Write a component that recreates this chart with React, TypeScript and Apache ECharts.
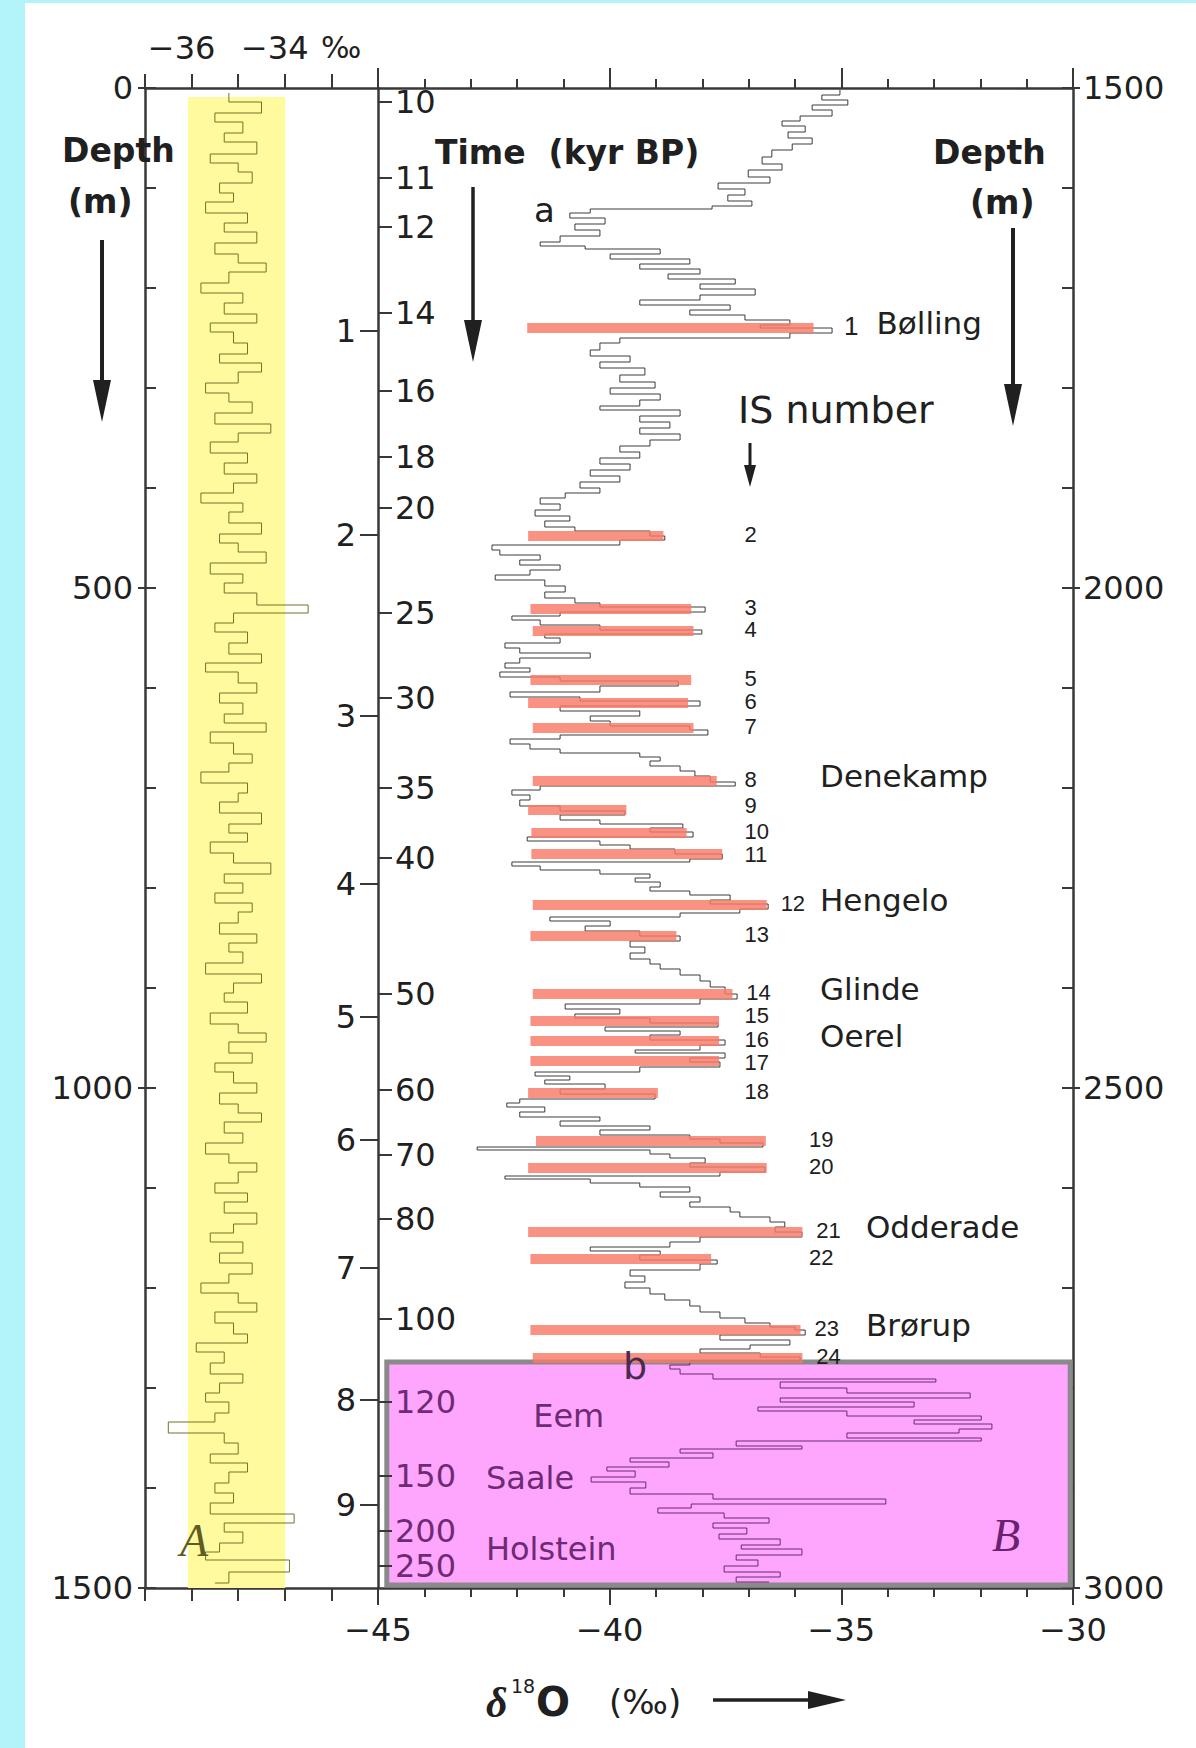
import React, { useEffect, useRef } from "react";
import * as echarts from "echarts";

const SANS = '"DejaVu Sans", "Noto Sans", sans-serif';
const ARIAL = '"Liberation Sans", Arial, sans-serif';
const SERIF = '"Liberation Serif", "DejaVu Serif", serif';
const INK = "#202020";
const AXIS = "#383838";
const PURPLE = "#6e2a74";
const TRACE_PURPLE = "#5a1e62";
const OLIVE = "#747228";
const BAR = "rgba(248,122,102,0.82)";

// ---------- Core A (left panel): depth (m) , delta18O (permil) ----------
const traceA: [number, number][] = [
  [5, -35.2], [14, -34.5], [25, -35.5], [34, -34.9], [45, -35.3], [54, -34.6], [66, -35.6], [75, -35.0], [84, -34.7], [95, -35.4],
  [105, -35.1], [114, -35.7], [125, -34.8], [135, -35.3], [144, -34.6], [155, -35.5], [166, -35.0], [175, -34.4], [184, -35.2], [195, -35.8],
  [205, -34.9], [215, -35.3], [226, -34.6], [235, -35.6], [244, -35.1], [255, -34.8], [266, -35.4], [275, -34.5], [284, -35.0], [295, -35.7],
  [305, -35.2], [314, -34.7], [325, -35.5], [336, -34.3], [345, -35.0], [354, -35.6], [365, -34.8], [375, -35.3], [386, -34.6], [395, -35.1],
  [405, -35.8], [415, -34.9], [424, -35.2], [435, -34.5], [446, -35.4], [455, -35.0], [464, -34.4], [475, -35.6], [486, -34.9], [495, -35.3],
  [505, -34.6], [517, -33.5], [525, -35.1], [535, -35.5], [544, -34.8], [555, -35.2], [566, -34.5], [575, -35.7], [584, -35.0], [595, -34.6],
  [605, -35.4], [615, -34.9], [626, -35.3], [635, -34.4], [644, -35.6], [655, -35.1], [666, -34.7], [675, -35.2], [684, -35.8], [695, -34.8],
  [705, -35.0], [714, -35.4], [725, -34.5], [736, -35.2], [745, -34.8], [754, -35.6], [765, -35.1], [775, -34.3], [786, -35.3], [795, -34.9],
  [805, -35.5], [815, -34.7], [824, -35.0], [835, -35.4], [846, -34.6], [855, -35.2], [864, -34.9], [875, -35.7], [886, -34.5], [895, -35.1],
  [905, -35.3], [914, -34.8], [925, -35.6], [936, -35.0], [945, -34.4], [954, -35.2], [965, -34.7], [975, -35.5], [984, -35.1], [995, -34.6],
  [1005, -35.4], [1016, -35.0], [1025, -34.5], [1034, -35.3], [1045, -34.9], [1055, -35.7], [1066, -35.2], [1075, -34.6], [1084, -35.0], [1095, -35.5],
  [1105, -34.8], [1114, -35.3], [1125, -34.6], [1136, -35.1], [1145, -35.6], [1154, -34.9], [1165, -35.4], [1175, -34.7], [1186, -35.2], [1195, -35.8],
  [1205, -35.0], [1215, -34.6], [1224, -35.5], [1235, -35.1], [1246, -34.8], [1255, -35.9], [1264, -35.3], [1275, -35.6], [1286, -34.9], [1295, -35.4],
  [1305, -35.7], [1314, -35.2], [1325, -35.5], [1334, -36.5], [1345, -35.3], [1355, -35.0], [1366, -35.6], [1375, -34.8], [1384, -35.2], [1395, -35.5],
  [1405, -35.1], [1415, -35.6], [1426, -33.8], [1435, -35.3], [1444, -34.9], [1455, -35.4], [1464, -35.7], [1472, -33.9], [1484, -35.2], [1495, -35.5],
];
const yellowBand = { from: -36.08, to: -33.99, top: 9, bottom: 1500 };

// ---------- Core B (right panel): depth (m), delta18O (permil) ----------
const traceBHolocene: [number, number][] = [
  [1502, -35.03], [1507, -35.42], [1512, -34.86], [1517, -35.63], [1522, -35.2], [1528, -35.89], [1533, -36.28], [1538, -35.78],
  [1544, -36.15], [1550, -35.63], [1556, -36.06], [1562, -36.5], [1569, -36.71], [1576, -36.28], [1582, -37.01], [1589, -36.54],
  [1595, -37.66], [1601, -37.08], [1607, -37.45], [1613, -36.93], [1618, -37.79],
];
const traceBLateGlacial: [number, number][] = [
  [1621, -40.42], [1625, -40.86], [1630, -40.1], [1636, -40.75], [1642, -40.21], [1648, -41.07], [1654, -41.5], [1658, -40.53],
  [1661, -38.91], [1666, -39.99], [1671, -38.27], [1676, -39.35], [1681, -38.05], [1686, -38.74], [1691, -37.29], [1696, -38.05],
  [1701, -36.86], [1707, -38.05], [1712, -39.35], [1717, -37.4], [1722, -38.27], [1727, -37.08], [1732, -36.11], [1737, -36.75],
  [1740, -35.2], [1745, -36.11], [1750, -39.78], [1755, -40.21], [1762, -40.42], [1768, -39.56], [1774, -40.21], [1780, -39.24],
  [1787, -39.78], [1794, -39.02], [1800, -39.99], [1806, -38.91], [1812, -39.35], [1818, -40.21], [1822, -38.48], [1828, -39.35],
  [1834, -38.7], [1840, -39.35], [1846, -38.48], [1852, -39.13], [1858, -39.78], [1864, -39.35], [1870, -40.21], [1876, -39.56],
  [1882, -40.42], [1888, -39.78], [1894, -40.64], [1900, -40.21], [1905, -40.96], [1910, -41.5], [1916, -41.07], [1922, -41.61],
  [1928, -40.86], [1933, -41.4], [1939, -40.75], [1943, -39.13], [1948, -38.81], [1952, -39.78],
];
const traceBGlacial: [number, number][] = [
  [1957, -42.54], [1962, -42.37], [1967, -41.5], [1972, -41.94], [1977, -41.07], [1982, -41.72], [1987, -42.47], [1992, -41.4],
  [1998, -40.96], [2004, -41.4], [2010, -40.75], [2015, -40.21], [2019, -37.94], [2024, -41.07], [2028, -42.11], [2032, -41.5],
  [2037, -40.21], [2042, -38.01], [2046, -41.4], [2050, -41.07], [2055, -42.26], [2060, -41.94], [2065, -40.42], [2070, -41.94],
  [2075, -42.26], [2080, -41.72], [2084, -42.37], [2089, -41.07], [2093, -38.52], [2098, -40.21], [2104, -42.15], [2109, -40.64],
  [2113, -38.05], [2118, -41.07], [2123, -39.35], [2128, -40.42], [2133, -39.99], [2138, -38.27], [2142, -37.88], [2147, -41.07],
  [2151, -42.15], [2156, -41.72], [2161, -41.07], [2165, -39.35], [2169, -38.91], [2173, -39.13], [2178, -38.48], [2183, -38.16],
  [2188, -37.83], [2194, -37.29], [2198, -41.5], [2202, -42.11], [2207, -41.72], [2212, -41.94], [2218, -41.07], [2223, -39.67],
  [2227, -41.07], [2232, -40.21], [2236, -38.42], [2240, -39.13], [2244, -38.2], [2249, -41.78], [2253, -40.21], [2257, -39.56],
  [2261, -38.59], [2266, -37.57], [2271, -38.27], [2274, -42.11], [2278, -41.5], [2282, -40.21], [2286, -39.13], [2290, -39.45],
  [2294, -38.91], [2299, -39.13], [2303, -38.27], [2307, -37.4], [2312, -37.83], [2316, -36.58], [2321, -37.19], [2325, -38.48],
  [2329, -41.29], [2333, -39.99], [2338, -40.53], [2343, -39.35], [2348, -38.48], [2353, -39.56], [2359, -39.24], [2365, -39.56],
  [2371, -39.13], [2376, -38.91], [2381, -38.48], [2387, -38.05], [2393, -37.83], [2399, -37.51], [2406, -37.25], [2411, -38.05],
  [2416, -40.96], [2421, -39.78], [2426, -40.75], [2430, -39.13], [2435, -37.66], [2439, -40.1], [2443, -38.48], [2447, -39.13],
  [2452, -37.51], [2457, -38.05], [2462, -39.45], [2465, -37.51], [2470, -38.27], [2474, -37.62], [2479, -39.35], [2484, -41.61],
  [2488, -40.86], [2492, -41.4], [2496, -40.1], [2501, -41.07], [2506, -39.02], [2511, -41.94], [2515, -42.22], [2519, -41.4],
  [2524, -41.94], [2529, -40.21], [2533, -41.07], [2538, -39.13], [2542, -40.21], [2547, -38.27], [2551, -37.62], [2555, -36.69],
  [2559, -42.86], [2562, -39.13], [2566, -38.7], [2570, -37.94], [2575, -38.27], [2579, -36.65], [2584, -37.62], [2588, -42.26],
  [2591, -40.42], [2595, -39.35], [2599, -38.27], [2604, -38.91], [2609, -38.05], [2614, -38.27], [2619, -37.4], [2624, -37.19],
  [2629, -36.54], [2634, -36.22], [2639, -36.43], [2644, -35.85], [2649, -38.05], [2654, -38.7], [2659, -40.42], [2663, -38.91],
  [2667, -39.35], [2672, -37.68], [2676, -38.05], [2682, -39.56], [2688, -39.24], [2694, -39.67], [2700, -39.13], [2706, -38.81],
  [2712, -38.27], [2718, -38.05], [2724, -37.62], [2730, -37.08], [2735, -36.54], [2739, -36.0], [2742, -35.78], [2747, -37.62],
  [2752, -36.11], [2757, -36.97], [2761, -38.05], [2765, -36.75], [2769, -35.89], [2773, -38.27],
];
const traceBPreGlacial: [number, number][] = [
  [2773, -38.27], [2777, -38.7], [2781, -38.48], [2786, -37.77], [2791, -32.96], [2794, -36.32], [2800, -34.88], [2805, -32.22],
  [2810, -36.32], [2814, -33.43], [2819, -36.8], [2823, -34.88], [2828, -31.98], [2832, -33.43], [2836, -31.75], [2841, -32.46],
  [2845, -34.88], [2850, -31.98], [2853, -37.27], [2858, -35.85], [2861, -38.48], [2865, -37.77], [2870, -39.56], [2874, -38.72],
  [2879, -40.06], [2883, -39.45], [2889, -40.4], [2894, -39.22], [2900, -39.56], [2906, -37.77], [2911, -34.04], [2916, -38.24],
  [2920, -38.96], [2925, -37.53], [2930, -36.56], [2935, -37.77], [2940, -37.04], [2946, -37.64], [2951, -36.32], [2957, -37.16],
  [2961, -35.85], [2967, -37.27], [2972, -36.8], [2978, -37.53], [2984, -36.32], [2989, -37.27], [2994, -36.56],
];
const eemBox = { from: -44.81, to: -30.06, top: 2774, bottom: 2997 };

// Interstadials (IS): number, depth (m), bar from / to (permil)
const isNumber = [1, 2, 3, 4, 5, 6, 7, 8, 9, 10, 11, 12, 13, 14, 15, 16, 17, 18, 19, 20, 21, 22, 23, 24];
const isDepth = [1740, 1948, 2021, 2043, 2092, 2115, 2140, 2193, 2222, 2245, 2266, 2317, 2348, 2406, 2433, 2453, 2473, 2505, 2553, 2580, 2644, 2671, 2742, 2770];
const isFrom = [-41.78, -41.76, -41.71, -41.66, -41.71, -41.76, -41.66, -41.66, -41.76, -41.69, -41.69, -41.66, -41.71, -41.66, -41.71, -41.71, -41.71, -41.76, -41.59, -41.76, -41.76, -41.71, -41.71, -41.66];
const isTo = [-35.6, -38.84, -38.24, -38.19, -38.24, -38.31, -38.19, -37.69, -39.64, -38.34, -37.57, -36.61, -38.56, -37.35, -37.64, -37.64, -37.64, -38.96, -36.63, -36.61, -35.84, -37.81, -35.88, -35.84];
const eraIS = [1, 8, 12, 14, 16, 21, 23];
const eraNames = ["Bølling", "Denekamp", "Hengelo", "Glinde", "Oerel", "Odderade", "Brørup"];

// Time scale (kyr BP) along the -45 axis, at core-B depths
const timeKyr = [10, 11, 12, 14, 16, 18, 20, 25, 30, 35, 40, 50, 60, 70, 80, 100, 120, 150, 200, 250];
const timeDepth = [1514, 1590, 1639, 1725, 1803, 1869, 1920, 2025, 2110, 2200, 2270, 2406, 2502, 2567, 2631, 2731, 2814, 2888, 2943, 2978];
const innerLabels = [1, 2, 3, 4, 5, 6, 7, 8, 9];
const innerDepth = [1743, 1947, 2128, 2296, 2429, 2552, 2680, 2812, 2917];

// Stage names in the lowest part of core B
const stageNames = ["Eem", "Saale", "Holstein"];
const stageDepth = [2828, 2890, 2961];
const stageX = [-41.65, -42.67, -42.67];

// label layout: small vertical nudges (px) for crowded IS numbers
const IS_LABEL_NUDGE: Record<number, number> = { 9: -3, 11: 2, 15: -4, 17: 3 };

const minus = (v: number) => (v < 0 ? "\u2212" : "") + Math.abs(Math.round(v));
const plain = (v: number) => String(Math.round(v));

function textStyle(text: string, o: any = {}) {
  const align = o.align || "left";
  const va = o.verticalAlign || "middle";
  const s: any = {
    text,
    fill: o.fill || INK,
    fontFamily: o.fontFamily || SANS,
    fontSize: o.fontSize || 32,
    fontWeight: o.fontWeight || "normal",
    fontStyle: o.fontStyle || "normal",
    align,
    verticalAlign: va,
    textAlign: align,
    textVerticalAlign: va,
  };
  if (o.lineHeight) s.lineHeight = o.lineHeight;
  return s;
}

function gtext(x: number, y: number, text: string, o: any = {}) {
  return { type: "text", x, y, z: 10, silent: true, style: textStyle(text, o) };
}

function arrowDown(x: number, y1: number, y2: number, w: number, head: number, lw: number) {
  return [
    { type: "line", z: 10, silent: true, shape: { x1: x, y1, x2: x, y2: y2 - head + 2 }, style: { stroke: INK, lineWidth: lw } },
    { type: "polygon", z: 10, silent: true, shape: { points: [[x - w / 2, y2 - head], [x + w / 2, y2 - head], [x, y2]] }, style: { fill: INK } },
  ];
}

const axisLineStyle = { color: AXIS, width: 2.5 };
const tickStyle = { color: AXIS, width: 2 };

function buildOption() {
  const tickLabelFont = { fontFamily: SANS, fontSize: 32, color: INK };
  const grids = [
    { left: 145, top: 88, width: 233, height: 1500, containLabel: false, outerBoundsMode: "none" },
    { left: 378, top: 88, width: 695, height: 1500, containLabel: false, outerBoundsMode: "none" },
  ];
  const xAxis: any[] = [
    {
      type: "value", gridIndex: 0, position: "bottom", min: -37, max: -32, interval: 1,
      axisLine: { show: true, onZero: false, lineStyle: axisLineStyle },
      axisTick: { show: true, length: 13, lineStyle: tickStyle },
      axisLabel: { show: false }, splitLine: { show: false },
    },
    {
      type: "value", gridIndex: 0, position: "top", min: -37, max: -32, interval: 1,
      axisLine: { show: true, onZero: false, lineStyle: axisLineStyle },
      axisTick: { show: true, length: 14, lineStyle: tickStyle },
      axisLabel: {
        show: true, margin: 24,
        formatter: (v: number) => (Math.round(v) === -36 || Math.round(v) === -34 ? `{t|${minus(v)}}{p| }` : ""),
        rich: { t: { ...tickLabelFont }, p: { width: 20, fontSize: 32 } },
      },
      splitLine: { show: false },
    },
    {
      type: "value", gridIndex: 1, position: "bottom", min: -45, max: -30, interval: 5,
      axisLine: { show: true, onZero: false, lineStyle: axisLineStyle },
      axisTick: { show: true, length: 17, lineStyle: tickStyle },
      minorTick: { show: true, splitNumber: 5, length: 9, lineStyle: tickStyle },
      axisLabel: { show: true, margin: 26, formatter: minus, ...tickLabelFont },
      splitLine: { show: false }, minorSplitLine: { show: false },
    },
    {
      type: "value", gridIndex: 1, position: "top", min: -45, max: -30, interval: 5,
      axisLine: { show: true, onZero: false, lineStyle: axisLineStyle },
      axisTick: { show: true, length: 20, lineStyle: tickStyle },
      minorTick: { show: true, splitNumber: 5, length: 9, lineStyle: tickStyle },
      axisLabel: { show: false }, splitLine: { show: false }, minorSplitLine: { show: false },
    },
  ];
  const yAxis: any[] = [
    {
      type: "value", gridIndex: 0, position: "left", inverse: true, min: 0, max: 1500, interval: 500,
      axisLine: { show: true, onZero: false, lineStyle: axisLineStyle },
      axisTick: { show: true, length: 7, lineStyle: tickStyle },
      axisLabel: { show: true, margin: 12, formatter: plain, ...tickLabelFont }, splitLine: { show: false },
    },
    {
      type: "value", gridIndex: 0, position: "left", inverse: true, min: 0, max: 1500, interval: 100,
      axisLine: { show: false, onZero: false },
      axisTick: { show: true, inside: true, length: 11, lineStyle: tickStyle },
      axisLabel: { show: false }, splitLine: { show: false },
    },
    {
      type: "value", gridIndex: 1, position: "right", inverse: true, min: 1500, max: 3000, interval: 500,
      axisLine: { show: true, onZero: false, lineStyle: axisLineStyle },
      axisTick: { show: true, length: 7, lineStyle: tickStyle },
      axisLabel: { show: true, margin: 10, formatter: plain, ...tickLabelFont }, splitLine: { show: false },
    },
    {
      type: "value", gridIndex: 1, position: "right", inverse: true, min: 1500, max: 3000, interval: 100,
      axisLine: { show: false, onZero: false },
      axisTick: { show: true, inside: true, length: 11, lineStyle: tickStyle },
      axisLabel: { show: false }, splitLine: { show: false },
    },
    {
      type: "value", gridIndex: 1, position: "left", inverse: true, min: 1500, max: 3000,
      axisLine: { show: true, onZero: false, lineStyle: axisLineStyle },
      axisTick: { show: false }, axisLabel: { show: false }, splitLine: { show: false },
    },
  ];

  const rectItem = (api: any, x0: number, x1: number, d0: number, d1: number, style: any) => {
    const p0 = api.coord([x0, d0]);
    const p1 = api.coord([x1, d1]);
    return {
      type: "rect",
      shape: { x: Math.min(p0[0], p1[0]), y: Math.min(p0[1], p1[1]), width: Math.abs(p1[0] - p0[0]), height: Math.abs(p1[1] - p0[1]) },
      style,
    };
  };

  const series: any[] = [
    {
      type: "custom", name: "band", xAxisIndex: 0, yAxisIndex: 0, z: 1, silent: true,
      data: [[yellowBand.from, yellowBand.top, yellowBand.to, yellowBand.bottom]],
      renderItem: (_p: any, api: any) => rectItem(api, api.value(0), api.value(2), api.value(1), api.value(3), { fill: "#fffa9e" }),
    },
    {
      type: "line", name: "coreA", xAxisIndex: 0, yAxisIndex: 0, z: 2, silent: true,
      step: "start", symbol: "none", showSymbol: false,
      lineStyle: { color: OLIVE, width: 1 },
      data: traceA.map(([d, v]) => [v, d]),
    },
    {
      type: "custom", name: "eemBox", xAxisIndex: 2, yAxisIndex: 2, z: 1, silent: true,
      data: [[eemBox.from, eemBox.top, eemBox.to, eemBox.bottom]],
      renderItem: (_p: any, api: any) =>
        rectItem(api, api.value(0), api.value(2), api.value(1), api.value(3), { fill: "#fea6fd", stroke: "#8a8a8a", lineWidth: 5 }),
    },
    {
      type: "line", name: "coreB", xAxisIndex: 2, yAxisIndex: 2, z: 2, silent: true,
      step: "start", symbol: "none", showSymbol: false,
      lineStyle: { color: "#262626", width: 0.9 },
      data: [...traceBHolocene, ...traceBLateGlacial, ...traceBGlacial].map(([d, v]) => [v, d]),
    },
    {
      type: "line", name: "coreBLower", xAxisIndex: 2, yAxisIndex: 2, z: 2, silent: true,
      step: "start", symbol: "none", showSymbol: false,
      lineStyle: { color: TRACE_PURPLE, width: 0.9 },
      data: traceBPreGlacial.map(([d, v]) => [v, d]),
    },
    {
      type: "custom", name: "IS bars", xAxisIndex: 2, yAxisIndex: 2, z: 3, silent: true,
      data: isNumber.map((n, i) => [isFrom[i], isDepth[i], isTo[i], n]),
      renderItem: (_p: any, api: any) => {
        const d = api.value(1);
        return rectItem(api, api.value(0), api.value(2), d - 5, d + 5, { fill: BAR });
      },
    },
    {
      type: "custom", name: "IS labels", xAxisIndex: 2, yAxisIndex: 2, z: 4, silent: true,
      data: isNumber.map((n, i) => [isTo[i], isDepth[i], n]),
      renderItem: (_p: any, api: any) => {
        const end = api.value(0);
        const d = api.value(1);
        const n = api.value(2);
        const col = n === 1 ? -34.94 : n >= 19 ? -35.7 : -37.09;
        const lx = Math.max(end + 0.3, col);
        const p = api.coord([lx, d]);
        const dy = -2 + (IS_LABEL_NUDGE[n] || 0);
        const children: any[] = [
          { type: "text", x: p[0], y: p[1] + dy, style: textStyle(String(n), { fontFamily: ARIAL, fontSize: n === 1 ? 26 : 22, lineHeight: 18 }) },
        ];
        const k = eraIS.indexOf(n);
        if (k >= 0) {
          const ex = n >= 19 ? -34.47 : n === 1 ? lx + 0.7 : -35.46;
          const q = api.coord([ex, d - 5]);
          children.push({ type: "text", x: q[0], y: q[1], style: textStyle(eraNames[k], { fontSize: 31 }) });
        }
        return { type: "group", children };
      },
    },
    {
      type: "custom", name: "time", xAxisIndex: 2, yAxisIndex: 2, z: 4, silent: true,
      data: timeKyr.map((t, i) => [-45, timeDepth[i], t]),
      renderItem: (_p: any, api: any) => {
        const p = api.coord([api.value(0), api.value(1)]);
        const t = api.value(2);
        return {
          type: "group",
          children: [
            { type: "line", shape: { x1: p[0], y1: p[1], x2: p[0] + 14, y2: p[1] }, style: { stroke: AXIS, lineWidth: 2 } },
            { type: "text", x: p[0] + 17, y: p[1], style: textStyle(String(t), { fill: t >= 120 ? PURPLE : INK }) },
          ],
        };
      },
    },
    {
      type: "custom", name: "inner", xAxisIndex: 2, yAxisIndex: 2, z: 4, silent: true,
      data: innerLabels.map((t, i) => [-45, innerDepth[i], t]),
      renderItem: (_p: any, api: any) => {
        const p = api.coord([api.value(0), api.value(1)]);
        const t = api.value(2);
        return {
          type: "group",
          children: [
            { type: "line", shape: { x1: p[0] - 18, y1: p[1], x2: p[0], y2: p[1] }, style: { stroke: AXIS, lineWidth: 2 } },
            { type: "text", x: p[0] - 22, y: p[1], style: textStyle(String(t), { align: "right" }) },
          ],
        };
      },
    },
    {
      type: "custom", name: "stages", xAxisIndex: 2, yAxisIndex: 2, z: 4, silent: true,
      data: stageNames.map((s, i) => [stageX[i], stageDepth[i], i]),
      renderItem: (_p: any, api: any) => {
        const p = api.coord([api.value(0), api.value(1)]);
        return { type: "text", x: p[0], y: p[1], style: textStyle(stageNames[api.value(2)], { fill: PURPLE, fontSize: 32 }) };
      },
    },
  ];

  const graphic: any[] = [
    { type: "rect", z: -100, silent: true, shape: { x: 25, y: 3, width: 1171, height: 1745 }, style: { fill: "#ffffff" } },
    gtext(62, 150, "Depth", { fontWeight: "bold", fontSize: 33 }),
    gtext(68, 201, "(m)", { fontWeight: "bold", fontSize: 33 }),
    gtext(933, 152, "Depth", { fontWeight: "bold", fontSize: 33 }),
    gtext(970, 202, "(m)", { fontWeight: "bold", fontSize: 33 }),
    gtext(435, 152, "Time  (kyr BP)", { fontWeight: "bold", fontSize: 33 }),
    gtext(738, 410, "IS number", { fontSize: 38 }),
    gtext(341, 47, "\u2030", { align: "center", fontSize: 30 }),
    gtext(534, 210, "a", { fontSize: 34 }),
    gtext(623, 1366, "b", { fontSize: 38, fill: "#4b2a50" }),
    gtext(194, 1540, "A", { align: "center", fontFamily: SERIF, fontStyle: "italic", fontSize: 46, fill: "#5e5c22" }),
    gtext(1006, 1535, "B", { align: "center", fontFamily: SERIF, fontStyle: "italic", fontSize: 46, fill: "#6a2270" }),
    gtext(486, 1703, "\u03b4", { fontFamily: SERIF, fontStyle: "italic", fontWeight: "bold", fontSize: 42 }),
    gtext(511, 1686, "18", { fontSize: 19 }),
    gtext(536, 1702, "O", { fontSize: 40, fontWeight: "bold" }),
    gtext(609, 1702, "(\u2030)", { fontSize: 34 }),
    ...arrowDown(102, 240, 422, 18, 42, 4),
    ...arrowDown(473, 187, 362, 18, 42, 3.5),
    ...arrowDown(1013, 228, 426, 18, 42, 4),
    ...arrowDown(750, 443, 487, 12, 22, 3),
    { type: "line", z: 10, silent: true, shape: { x1: 713, y1: 1700, x2: 812, y2: 1700 }, style: { stroke: INK, lineWidth: 3.5 } },
    { type: "polygon", z: 10, silent: true, shape: { points: [[808, 1691], [808, 1709], [846, 1700]] }, style: { fill: INK } },
  ];

  return {
    animation: false,
    backgroundColor: "#b3f3fa",
    grid: grids,
    xAxis,
    yAxis,
    series,
    graphic: { elements: graphic },
  };
}

export default function App() {
  const ref = useRef<HTMLDivElement>(null);
  useEffect(() => {
    if (!ref.current) return;
    const chart = echarts.init(ref.current, null, { renderer: "svg" });
    chart.setOption(buildOption() as any);
    return () => chart.dispose();
  }, []);
  return <div ref={ref} style={{ position: "absolute", left: 0, top: 0, width: 1196, height: 1748 }} />;
}
